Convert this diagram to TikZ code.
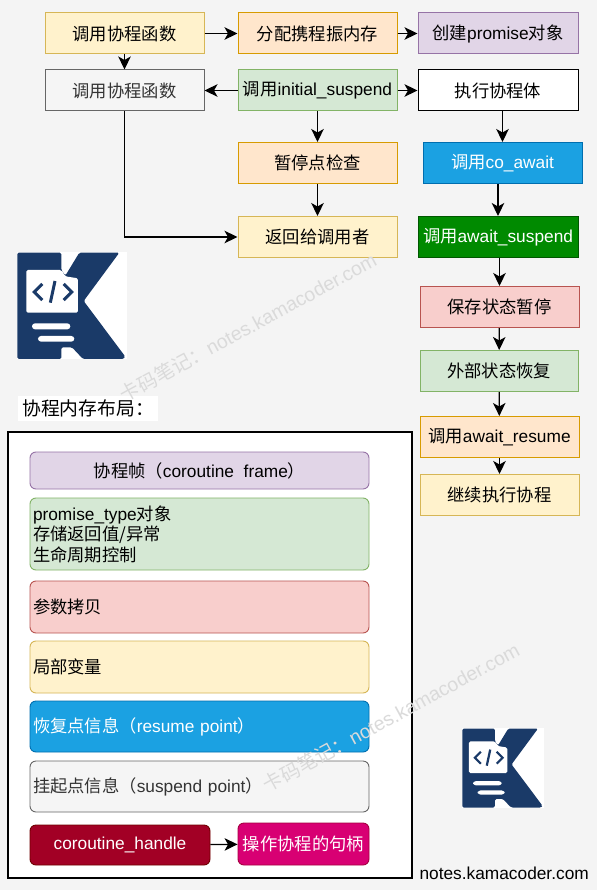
\documentclass[tikz,border=0pt]{standalone}
\usepackage{fontspec}
\setmainfont{Liberation Sans}
\newfontfamily\cjkfont{Noto Sans CJK SC}
\newcommand{\zh}[1]{{\cjkfont #1}}
\usetikzlibrary{arrows.meta}
\definecolor{pgbg}{HTML}{F4F4F4}
\definecolor{yf}{HTML}{FFF2CC}\definecolor{yd}{HTML}{D6B656}
\definecolor{of}{HTML}{FFE6CC}\definecolor{od}{HTML}{D79B00}
\definecolor{pf}{HTML}{E1D5E7}\definecolor{pd}{HTML}{9673A6}
\definecolor{gf}{HTML}{F5F5F5}\definecolor{gd}{HTML}{666666}\definecolor{gt}{HTML}{333333}
\definecolor{lf}{HTML}{D5E8D4}\definecolor{ld}{HTML}{82B366}
\definecolor{bf}{HTML}{1BA1E2}\definecolor{bd}{HTML}{006EAF}
\definecolor{rf}{HTML}{F8CECC}\definecolor{rd}{HTML}{B85450}
\definecolor{df}{HTML}{008A00}\definecolor{dd}{HTML}{005700}
\definecolor{cf}{HTML}{A20025}\definecolor{cd}{HTML}{6F0000}
\definecolor{mf}{HTML}{D80073}\definecolor{md}{HTML}{A50040}
\definecolor{navy}{HTML}{1A3A68}
\definecolor{wm}{HTML}{DADADA}
\tikzset{
  every node/.style={font=\fontsize{17.3}{21}\selectfont, inner sep=0pt},
  flowbox/.style={draw, line width=1pt, minimum width=159pt, minimum height=41pt, align=center, text=black},
  membox/.style={draw, line width=0.9pt, rounded corners=6pt, minimum width=339pt, align=left, text=black},
  yellowc/.style={fill=yf,draw=yd}, orangec/.style={fill=of,draw=od},
  purplec/.style={fill=pf,draw=pd}, grayc/.style={fill=gf,draw=gd,text=gt},
  greenc/.style={fill=lf,draw=ld}, bluec/.style={fill=bf,draw=bd,text=white},
  redc/.style={fill=rf,draw=rd}, darkc/.style={fill=df,draw=dd,text=white},
  arrowline/.style={draw=black, line width=1.2pt, -{Stealth[length=13pt,width=12.5pt,inset=3.5pt]}},
  watermark/.style={text=wm, rotate=28.5, font=\fontsize{19.5}{23}\selectfont},
}
\newcommand{\kamalogo}[3]{%
\begin{scope}[shift={(#1,#2)},scale=#3]
  \fill[white] (0,0) rectangle (329,321);
  \fill[navy,rounded corners=1.5pt] (1,2) -- (133,2) -- (133,54) -- (145,71) -- (187,2) -- (307,2) -- (200,147) -- (325,314) -- (320,321) -- (198,321) -- (165,286) -- (133,286) -- (133,321) -- (1,321) -- cycle;
  \fill[white,rounded corners=1.5pt] (28,54) -- (133,54) -- (145,73) -- (183,79) -- (183,182) -- (28,182) -- cycle;
  \fill[white,rounded corners=3pt] (45,214) rectangle (160,232);
  \fill[white,rounded corners=3pt] (63,252) rectangle (172,269);
  \draw[navy,line width={#3*9pt},line join=miter] (76,96) -- (52,120) -- (76,144);
  \draw[navy,line width={#3*9pt},line join=miter] (140,96) -- (164,120) -- (140,144);
  \draw[navy,line width={#3*9pt}] (114,87) -- (100,152);
\end{scope}}
\begin{document}
\begin{tikzpicture}[x=1pt,y=-1pt]
\useasboundingbox (0,0) rectangle (597,890);
\fill[pgbg] (0,0) rectangle (597,890);

% logos
\kamalogo{17}{252}{0.3333}
\kamalogo{462}{728}{0.2477}

% flow boxes
\node[flowbox,yellowc] (call) at (124.5,33.5) {\zh{调用协程函数}};
\node[flowbox,orangec] (alloc) at (317.5,33.5) {\zh{分配携程振内存}};
\node[flowbox,purplec,minimum width=160pt] (promise) at (498,33.5) {\zh{创建}promise\zh{对象}};
\node[flowbox,grayc] (callb) at (124.5,90.5) {\zh{调用协程函数}};
\node[flowbox,greenc] (init) at (317.5,90.5) {\zh{调用}initial\_suspend};
\node[flowbox,minimum width=160pt,fill=white,draw=black] (body) at (498,90.5) {\zh{执行协程体}};
\node[flowbox,orangec] (check) at (317.5,163) {\zh{暂停点检查}};
\node[flowbox,bluec] (coawait) at (502.5,163) {\zh{调用}co\_await};
\node[flowbox,yellowc] (ret) at (317.5,237) {\zh{返回给调用者}};
\node[flowbox,darkc,minimum width=160pt] (asusp) at (498,237) {\zh{调用}await\_suspend};
\node[flowbox,redc] (save) at (499.5,307) {\zh{保存状态暂停}};
\node[flowbox,greenc,minimum width=158pt] (ext) at (499,371) {\zh{外部状态恢复}};
\node[flowbox,orangec] (ares) at (499.5,437) {\zh{调用}await\_resume};
\node[flowbox,yellowc] (cont) at (499.5,495) {\zh{继续执行协程}};

% connectors
\draw[arrowline] (call) -- (alloc);
\draw[arrowline] (alloc) -- (promise);
\draw[arrowline] (call) -- (callb);
\draw[arrowline] (init) -- (callb);
\draw[arrowline] (init) -- (body);
\draw[arrowline] (init) -- (check);
\draw[arrowline] (check) -- (ret);
\draw[arrowline] (callb.south) |- (ret.west);
\draw[arrowline] (body.south -| coawait.north) -- (coawait.north);
\draw[arrowline] (coawait.south -| asusp.north) -- (asusp.north);
\draw[arrowline] (asusp.south -| save.north) -- (save.north);
\draw[arrowline] (save) -- (ext);
\draw[arrowline] (ext) -- (ares);
\draw[arrowline] (ares) -- (cont);

% memory layout
\node[fill=white,minimum width=140pt,minimum height=25pt,font=\fontsize{18.8}{22}\selectfont] (title) at (88,408.5) {\zh{协程内存布局：}\hspace{3pt}};
\node[draw=black,line width=1.2pt,fill=white,minimum width=404pt,minimum height=446pt] (frame) at (210,655) {};

\node[membox,fill=pf,draw=pd,minimum height=37pt,align=center] (m1) at (199.5,470.5) {\zh{协程帧（}coroutine\ \ frame\zh{）}};
\node[membox,fill=lf,draw=ld,minimum height=72pt,text width=333pt,inner xsep=3pt,minimum width=339pt] (m2) at (199.5,534) {promise\_type\zh{对象}\\[-0.5pt]\zh{存储返回值/异常}\\[-0.5pt]\zh{生命周期控制}};
\node[membox,fill=rf,draw=rd,minimum height=52pt,text width=333pt,inner xsep=3pt] (m3) at (199.5,607) {\zh{参数拷贝}};
\node[membox,fill=yf,draw=yd,minimum height=52pt,text width=333pt,inner xsep=3pt] (m4) at (199.5,667) {\zh{局部变量}};
\node[membox,fill=bf,draw=bd,text=white,minimum height=51pt,text width=333pt,inner xsep=3pt] (m5) at (199.5,726.5) {\zh{恢复点信息（}resume point\zh{）}};
\node[membox,fill=gf,draw=gd,text=gt,minimum height=51pt,text width=333pt,inner xsep=3pt] (m6) at (199.5,786.5) {\zh{挂起点信息（}suspend point\zh{）}};
\node[membox,fill=cf,draw=cd,text=white,minimum width=180pt,minimum height=40pt,align=center] (handle) at (120,845) {coroutine\_handle};
\node[membox,fill=mf,draw=md,text=white,minimum width=131pt,minimum height=42pt,align=center] (op) at (303.5,844) {\zh{操作协程的句柄}};
\draw[arrowline] (handle) -- (op);

% footer text and watermarks
\node[anchor=base east,text=black] (site) at (589,879) {notes.kamacoder.com};
\node[watermark] (wm1) at (248,327) {\zh{卡码笔记：}notes.kamacoder.com};
\node[watermark] (wm2) at (391,717) {\zh{卡码笔记：}notes.kamacoder.com};
\end{tikzpicture}
\end{document}
